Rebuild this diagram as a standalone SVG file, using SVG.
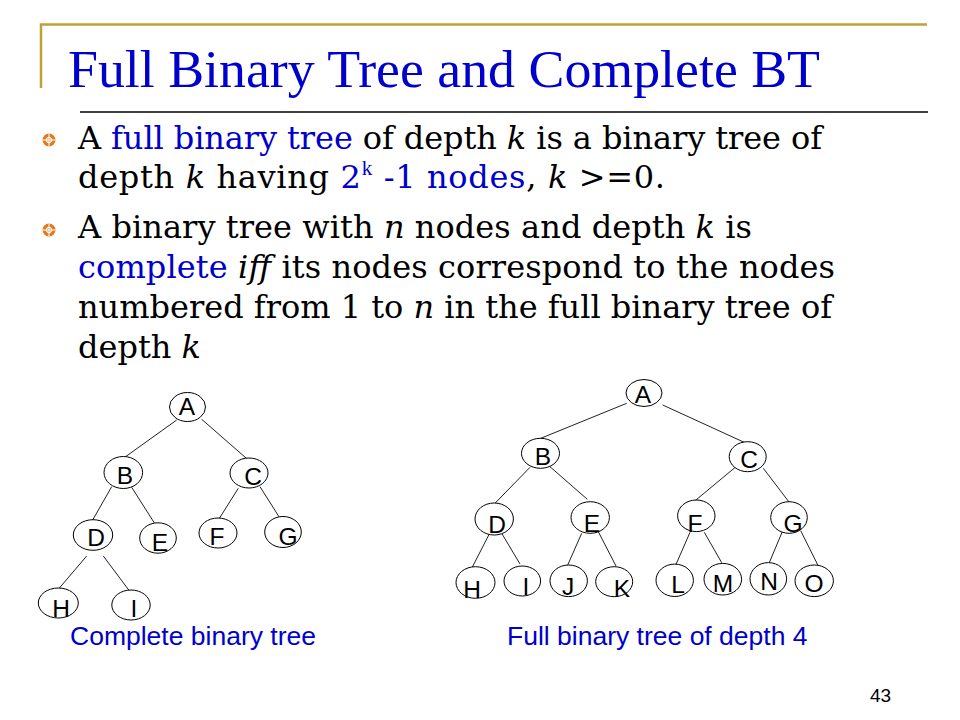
<svg xmlns="http://www.w3.org/2000/svg" width="960" height="720" viewBox="0 0 960 720">
<style>
.title{font-family:"Liberation Serif","Times New Roman",serif;font-size:53px;fill:#0000CC}
.body{font-family:"DejaVu Serif","Liberation Serif",serif;font-size:32px;fill:#000}
.blue{fill:#0000CC}
.it{font-style:italic}
.cap{font-family:"Liberation Sans",Arial,sans-serif;font-size:26.5px;fill:#0000CC}
.node ellipse{fill:#fff;stroke:#000;stroke-width:1}
.node text{font-family:"Liberation Sans",Arial,sans-serif;font-size:24.5px;fill:#000;text-anchor:middle}
.edges line{stroke:#222;stroke-width:1}
.pn{font-family:"Liberation Sans",Arial,sans-serif;font-size:19px;fill:#000}
</style>
<defs>
<g id="bullet">
<circle r="6.5" fill="#E07A1F"/>
<circle r="2.6" fill="none" stroke="#fff" stroke-width="1.2"/>
<line x1="-6.5" y1="0" x2="6.5" y2="0" stroke="#fff" stroke-width="1"/>
<line x1="0" y1="-6.5" x2="0" y2="6.5" stroke="#fff" stroke-width="1"/>
</g>
</defs>
<rect width="960" height="720" fill="#fff"/>
<path d="M41 88 V24.5 H927" fill="none" stroke="#BFA03A" stroke-width="2.5"/>
<line x1="80" y1="112" x2="928" y2="112" stroke="#000" stroke-width="1.5"/>
<text class="title" x="68" y="87" textLength="752" lengthAdjust="spacingAndGlyphs">Full Binary Tree and Complete BT</text>

<use href="#bullet" x="49" y="140"/>
<use href="#bullet" x="49" y="230"/>
<text class="body" x="78" y="149" textLength="744" lengthAdjust="spacing">A <tspan class="blue">full binary tree</tspan> of depth <tspan class="it">k</tspan> is a binary tree of</text>
<text class="body" x="78" y="188" textLength="587" lengthAdjust="spacing">depth <tspan class="it">k</tspan> having <tspan class="blue">2</tspan><tspan class="blue" font-family="Liberation Serif" font-size="21" dy="-13">k</tspan><tspan class="blue" dy="13"> -1 nodes</tspan>, <tspan class="it">k</tspan> &gt;=0.</text>
<text class="body" x="78" y="238" textLength="674" lengthAdjust="spacing">A binary tree with <tspan class="it">n</tspan> nodes and depth <tspan class="it">k</tspan> is</text>
<text class="body" x="78" y="278" textLength="757" lengthAdjust="spacing"><tspan class="blue">complete</tspan> <tspan class="it">iff</tspan> its nodes correspond to the nodes</text>
<text class="body" x="78" y="318" textLength="754" lengthAdjust="spacing">numbered from 1 to <tspan class="it">n</tspan> in the full binary tree of</text>
<text class="body" x="78" y="358">depth <tspan class="it">k</tspan></text>

<g class="edges">
<line x1="176.7" y1="420" x2="123.3" y2="458.3"/>
<line x1="201.7" y1="419.3" x2="248.3" y2="460"/>
<line x1="111.7" y1="486.7" x2="91.7" y2="521.7"/>
<line x1="131.7" y1="487.3" x2="155" y2="524"/>
<line x1="238.3" y1="488.3" x2="218.3" y2="520"/>
<line x1="260" y1="486.7" x2="280" y2="518.3"/>
<line x1="86.7" y1="556" x2="58.3" y2="589.3"/>
<line x1="103.3" y1="556" x2="130" y2="591.7"/>

<line x1="626.7" y1="403.3" x2="538.3" y2="439.3"/>
<line x1="662.7" y1="405" x2="745" y2="442.7"/>
<line x1="530" y1="467.3" x2="493.3" y2="505"/>
<line x1="550" y1="466.7" x2="587.3" y2="499.3"/>
<line x1="736" y1="466.7" x2="692.7" y2="502.7"/>
<line x1="763.3" y1="468.3" x2="790" y2="503.3"/>
<line x1="489.3" y1="534" x2="471.7" y2="568.3"/>
<line x1="501.7" y1="533.3" x2="520" y2="564"/>
<line x1="581.7" y1="533.3" x2="566.7" y2="567.3"/>
<line x1="598.3" y1="531.7" x2="616" y2="566"/>
<line x1="690" y1="532.3" x2="675" y2="566.7"/>
<line x1="704.3" y1="532.3" x2="721.7" y2="562.7"/>
<line x1="783.3" y1="529.3" x2="768.3" y2="565"/>
<line x1="800.7" y1="530.7" x2="818.3" y2="566"/>
</g>

<g id="L-A" class="node"><ellipse cx="187.5" cy="407" rx="18" ry="14.5"/><text x="187" y="415">A</text></g>
<g id="L-B" class="node"><ellipse cx="123.3" cy="472.5" rx="19.3" ry="16"/><text x="125" y="484">B</text></g>
<g id="L-C" class="node"><ellipse cx="249" cy="473" rx="19" ry="15"/><text x="253" y="485">C</text></g>
<g id="L-D" class="node"><ellipse cx="93" cy="535" rx="19.7" ry="15.3"/><text x="96" y="546">D</text></g>
<g id="L-E" class="node"><ellipse cx="158" cy="538" rx="18.3" ry="15.2"/><text x="160" y="551">E</text></g>
<g id="L-F" class="node"><ellipse cx="218" cy="533" rx="19" ry="15"/><text x="217" y="545">F</text></g>
<g id="L-G" class="node"><ellipse cx="283" cy="532" rx="18.3" ry="15.5"/><text x="288" y="545">G</text></g>
<g id="L-H" class="node"><ellipse cx="58.3" cy="603" rx="20" ry="15"/><text x="61" y="617">H</text></g>
<g id="L-I" class="node"><ellipse cx="131" cy="605" rx="19.2" ry="15"/><text x="134" y="617">I</text></g>

<g id="R-A" class="node"><ellipse cx="644" cy="393" rx="18" ry="13.5"/><text x="643" y="403">A</text></g>
<g id="R-B" class="node"><ellipse cx="540.5" cy="453.3" rx="19" ry="15"/><text x="543" y="465">B</text></g>
<g id="R-C" class="node"><ellipse cx="747.7" cy="456.7" rx="18.5" ry="15"/><text x="749" y="468">C</text></g>
<g id="R-D" class="node"><ellipse cx="494.2" cy="519" rx="19.2" ry="16"/><text x="497" y="533">D</text></g>
<g id="R-E" class="node"><ellipse cx="590.2" cy="517.5" rx="19.2" ry="15.8"/><text x="592" y="532">E</text></g>
<g id="R-F" class="node"><ellipse cx="696.3" cy="515.8" rx="18.7" ry="15.8"/><text x="695" y="532">F</text></g>
<g id="R-G" class="node"><ellipse cx="789" cy="517.5" rx="18.3" ry="15.8"/><text x="793" y="532">G</text></g>
<g id="R-H" class="node"><ellipse cx="475.5" cy="582.5" rx="19.5" ry="15.8"/><text x="472" y="598">H</text></g>
<g id="R-I" class="node"><ellipse cx="522.3" cy="581" rx="18.3" ry="15"/><text x="526" y="595">I</text></g>
<g id="R-J" class="node"><ellipse cx="568.7" cy="580.8" rx="18.7" ry="15.8"/><text x="568" y="595">J</text></g>
<g id="R-K" class="node"><ellipse cx="614.2" cy="581.7" rx="18.5" ry="15"/><text x="622" y="597">K</text></g>
<g id="R-L" class="node"><ellipse cx="674.7" cy="580.3" rx="18.7" ry="16.2"/><text x="678" y="593">L</text></g>
<g id="R-M" class="node"><ellipse cx="722.8" cy="579.2" rx="18.8" ry="15.8"/><text x="723" y="592">M</text></g>
<g id="R-N" class="node"><ellipse cx="768.3" cy="578.8" rx="18.3" ry="16.2"/><text x="769" y="590">N</text></g>
<g id="R-O" class="node"><ellipse cx="814.2" cy="580.8" rx="19.2" ry="15.8"/><text x="814" y="592">O</text></g>

<text class="cap" x="70" y="645">Complete binary tree</text>
<text class="cap" x="507" y="645">Full binary tree of depth 4</text>
<text class="pn" x="870" y="702">43</text>
</svg>
